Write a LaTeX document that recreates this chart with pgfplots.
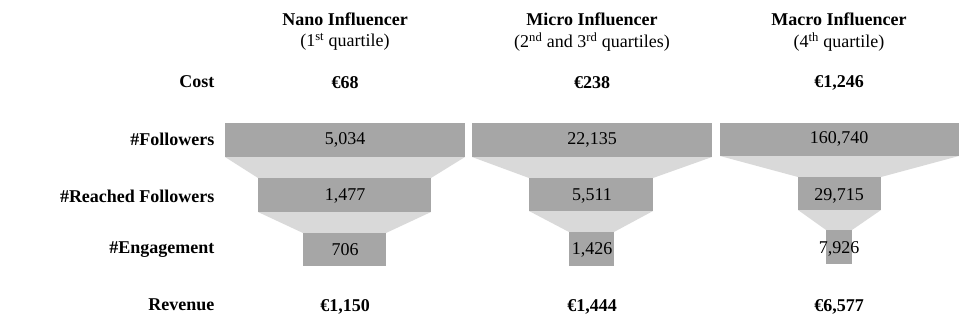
\documentclass[border=0pt]{standalone}
\usepackage{fontspec}
\setmainfont{Liberation Serif}
\usepackage{pgfplots}
\pgfplotsset{compat=1.18}
\definecolor{bargray}{HTML}{A6A6A6}
\definecolor{lightgray}{HTML}{D9D9D9}
\begin{document}
\begin{tikzpicture}
\begin{axis}[
  width=960pt, height=329pt, scale only axis,
  xmin=0, xmax=960, ymin=0, ymax=329, y dir=reverse,
  axis lines=none, ticks=none, clip=false, enlargelimits=false,
]
\newcommand{\tx}{\fontsize{18}{20}\selectfont}
\path (axis cs:0,0) rectangle (axis cs:960,329);
% connectors
\addplot[fill=lightgray, draw=none] coordinates {(225,157) (465,157) (431,178) (258,178)} --cycle;
\addplot[fill=lightgray, draw=none] coordinates {(258,212) (431,212) (386,233) (303,233)} --cycle;
\addplot[fill=lightgray, draw=none] coordinates {(472,157) (712,157) (653,178) (529,178)} --cycle;
\addplot[fill=lightgray, draw=none] coordinates {(529,211) (653,211) (614,232) (569,232)} --cycle;
\addplot[fill=lightgray, draw=none] coordinates {(720,156) (959,156) (881,177) (798,177)} --cycle;
\addplot[fill=lightgray, draw=none] coordinates {(798,210) (881,210) (852,230) (826,230)} --cycle;
% bars
\addplot[fill=bargray, draw=none] coordinates {(225,123) (465,123) (465,157) (225,157)} --cycle;
\addplot[fill=bargray, draw=none] coordinates {(258,178) (431,178) (431,212) (258,212)} --cycle;
\addplot[fill=bargray, draw=none] coordinates {(303,233) (386,233) (386,266) (303,266)} --cycle;
\addplot[fill=bargray, draw=none] coordinates {(472,123) (712,123) (712,157) (472,157)} --cycle;
\addplot[fill=bargray, draw=none] coordinates {(529,178) (653,178) (653,211) (529,211)} --cycle;
\addplot[fill=bargray, draw=none] coordinates {(569,232) (614,232) (614,266) (569,266)} --cycle;
\addplot[fill=bargray, draw=none] coordinates {(720,123) (959,123) (959,156) (720,156)} --cycle;
\addplot[fill=bargray, draw=none] coordinates {(798,177) (881,177) (881,210) (798,210)} --cycle;
\addplot[fill=bargray, draw=none] coordinates {(826,230) (852,230) (852,264) (826,264)} --cycle;
% headers
\node[font=\tx\bfseries] at (axis cs:345,19) {Nano Influencer};
\node[font=\tx] at (axis cs:345,42) {(1\textsuperscript{st} quartile)};
\node[font=\tx\bfseries] at (axis cs:592,19) {Micro Influencer};
\node[font=\tx] at (axis cs:592,42) {(2\textsuperscript{nd} and 3\textsuperscript{rd} quartiles)};
\node[font=\tx\bfseries] at (axis cs:839,19) {Macro Influencer};
\node[font=\tx] at (axis cs:839,42) {(4\textsuperscript{th} quartile)};
% row labels
\node[font=\tx\bfseries, anchor=east] at (axis cs:218,82) {Cost};
\node[font=\tx\bfseries, anchor=east] at (axis cs:218,139) {\#Followers};
\node[font=\tx\bfseries, anchor=east] at (axis cs:218,196) {\#Reached Followers};
\node[font=\tx\bfseries, anchor=east] at (axis cs:218,250) {\#Engagement};
\node[font=\tx\bfseries, anchor=east] at (axis cs:218,305) {Revenue};
% cost
\node[font=\tx\bfseries] at (axis cs:345,83) {€68};
\node[font=\tx\bfseries] at (axis cs:592,83) {€238};
\node[font=\tx\bfseries] at (axis cs:839,83) {€1,246};
% revenue
\node[font=\tx\bfseries] at (axis cs:345,307) {€1,150};
\node[font=\tx\bfseries] at (axis cs:592,307) {€1,444};
\node[font=\tx\bfseries] at (axis cs:839,307) {€6,577};
% bar values
\node[font=\tx] at (axis cs:345,140) {5,034};
\node[font=\tx] at (axis cs:345,196) {1,477};
\node[font=\tx] at (axis cs:345,250) {706};
\node[font=\tx] at (axis cs:592,140) {22,135};
\node[font=\tx] at (axis cs:592,196) {5,511};
\node[font=\tx] at (axis cs:592,250) {1,426};
\node[font=\tx] at (axis cs:839,139) {160,740};
\node[font=\tx] at (axis cs:839,196) {29,715};
\node[font=\tx] at (axis cs:839,249) {7,926};
\end{axis}
\end{tikzpicture}
\end{document}
